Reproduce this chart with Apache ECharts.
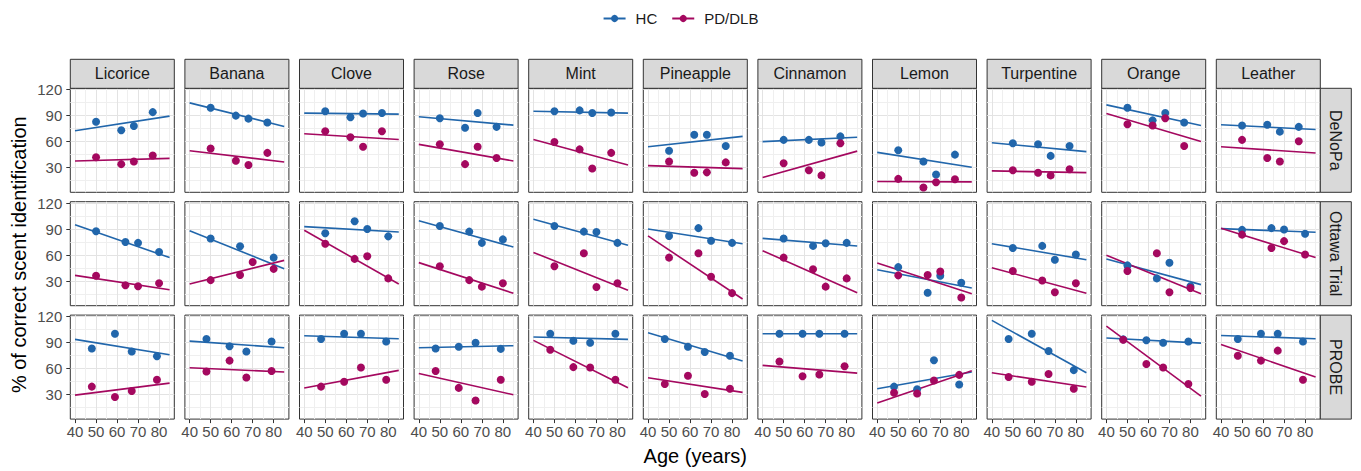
<!DOCTYPE html>
<html><head><meta charset="utf-8">
<script src="https://cdn.jsdelivr.net/npm/echarts@6/dist/echarts.min.js"></script>
<style>html,body{margin:0;padding:0;background:#fff}#c{width:1361px;height:471px}</style>
</head><body><div id="c"></div>
<script>
// ---------- DATA ----------
const scents = ['Licorice','Banana','Clove','Rose','Mint','Pineapple','Cinnamon','Lemon','Turpentine','Orange','Leather'];
const cohorts = ['DeNoPa','Ottawa Trial','PROBE'];
const groups = ['HC','PD/DLB'];
const xTicks = [40,50,60,70,80];
const xMinorTicks = [45,55,65,75,85];
const yTicks = [30,60,90,120];
const yMinorTicks = [15,45,75,105];
const fitAges = [40,85];

// mean age of each age band, per cohort
const agesDeNoPa = [50,62,68,77];
const agesOttawa = [50,64,70,80];
const agesPROBE  = [48,59,67,79];

// % correct per scent (rows follow `scents`), per age band
const deNoPaHC = [[83,73,78,94],[99,90,86.5,82],[95,88,92.5,93],[87,76,93,77],[95,96,93,93.5],[49.5,68,68,55],[62,62,59,66],[50,37,22,45],[58,57,43.5,55],[99,84.5,93,82],[78.5,79.5,71.5,77]];
const deNoPaPD = [[42,34,37,44],[52,38,33,47],[72,65,54,72],[57,34,54,41],[59.5,51,29,47],[37,24,24.5,36],[35,27,21,58],[17,7,13,16.5],[27,24,21,28],[80,78.5,87,55],[62,41,37,60.5]];
const ottawaHC = [[87.5,75,74,63.5],[79,70,null,57],[85,99,90,81.5],[93.5,87,74,78],[93.5,87,86.5,74],[82,91,76.5,74],[79,70.5,73.5,74],[46,16.5,36,28],[68,70.5,54.5,60.5],[48,33,51,24],[89,91,89.5,84.5]];
const ottawaPD = [[36,25,24,27.5],[31,37,52,44],[73,55.5,58.5,33],[47,31,23.5,27.5],[47,62,23,27.5],[57,62,35,16],[57,43.5,23.5,33],[36.5,37,41,11],[41.5,30.5,17,27.5],[41.5,62,17,22],[83.5,68,76,60.5]];
const probeHC  = [[83,100,79.5,74],[94,85.5,79.5,91],[94,100,100,91],[83,85,89.5,82.5],[100,92,89.5,100],[94,85,79,74.5],[100,100,100,100],[39,36,69.5,41.5],[94,100,80,58],[93.5,92.5,89.5,91],[94,100,100,91]];
const probePD  = [[39,27,34,47],[56.5,69,49.5,57],[39,44.5,61,47],[57,37.5,23,47],[81.5,61.5,61,47],[42,51.5,30.5,36.5],[68,51,53,62.5],[32,31,46,52.5],[50,44.5,53.5,36.5],[93,65,61,42],[74.5,69,80.5,47]];

// linear fit value at age 40 and age 85, per scent
const deNoPaHCFit = [[72.5,89.4],[104.7,77.5],[92.8,91.7],[88.6,79],[95.1,92.8],[54,66],[60,65],[47.6,30.4],[58.7,48.4],[102.4,78.6],[79.4,74]];
const deNoPaPDFit = [[37.7,40.7],[49.5,36.5],[69,62.5],[56.8,37.7],[62.5,33],[32.3,28.8],[18.5,49],[14,13.5],[26.2,24.2],[92.4,60],[54,46.8]];
const ottawaHCFit = [[95,57],[88,44.2],[92.7,86.5],[99.6,69.2],[101.2,71.2],[90,73],[79.2,70.4],[43,22],[73,54.6],[55.4,25.8],[90.4,86.2]];
const ottawaPDFit = [[36.5,20],[26.5,53.8],[88.5,26.5],[51.2,15.8],[63,19.2],[82,9.2],[65,16.5],[50.8,15.4],[45.4,15.8],[59.6,15.4],[90.8,57]];
const probeHCFit  = [[93.5,75.8],[91.5,83.8],[97.7,94.2],[83.8,86.2],[96.2,93.5],[101.2,68.5],[100,100],[36.5,55.8],[115.4,55],[95,89.2],[98,94.2]];
const probePDFit  = [[29.2,43],[60.8,55.8],[37.3,57.7],[54.2,29.6],[92.3,37.7],[49.2,32.3],[63.5,54.6],[20,57.3],[55,38.5],[108.8,28],[87.7,50]];

// ---------- STYLE / LAYOUT ----------
const FONT = "'Liberation Sans', Arial, Helvetica, sans-serif";
const COLORS = {'HC':'#2166ab', 'PD/DLB':'#a4085f'};
const L0 = 70.3, PX = 114.6, PW = 104;
const T0 = 88.3, PY = 113.4, PH = 104;
const XMIN = 37.75, XMAX = 87.25, YMIN = 1.5, YMAX = 121.5;

const cohortData = [
  {ages: agesDeNoPa, HC: deNoPaHC, PD: deNoPaPD, HCFit: deNoPaHCFit, PDFit: deNoPaPDFit},
  {ages: agesOttawa, HC: ottawaHC, PD: ottawaPD, HCFit: ottawaHCFit, PDFit: ottawaPDFit},
  {ages: agesPROBE,  HC: probeHC,  PD: probePD,  HCFit: probeHCFit,  PDFit: probePDFit}
];

const grid = [], xAxis = [], yAxis = [], lineSeries = [], pointSeries = [], graphics = [];

cohorts.forEach((coh, r) => {
  const cd = cohortData[r];
  scents.forEach((sc, c) => {
    const g = grid.length;
    const left = L0 + c * PX, top = T0 + r * PY;
    grid.push({left: left, top: top, width: PW, height: PH, show: true,
      backgroundColor: '#fff', borderColor: '#333', borderWidth: 1});
    const bottomRow = r === cohorts.length - 1, firstCol = c === 0;
    // minor grid axes
    xAxis.push({gridIndex: g, type: 'value', min: XMIN, max: XMAX,
      axisLine: {show: false, onZero: false}, axisTick: {show: false, customValues: xMinorTicks},
      axisLabel: {show: false, customValues: xMinorTicks},
      splitLine: {show: true, lineStyle: {color: '#efefef', width: 1}}});
    yAxis.push({gridIndex: g, type: 'value', min: YMIN, max: YMAX,
      axisLine: {show: false, onZero: false}, axisTick: {show: false, customValues: yMinorTicks},
      axisLabel: {show: false, customValues: yMinorTicks},
      splitLine: {show: true, lineStyle: {color: '#efefef', width: 1}}});
    // major axes
    xAxis.push({gridIndex: g, type: 'value', min: XMIN, max: XMAX, position: 'bottom',
      axisLine: {show: false, onZero: false},
      axisTick: {show: bottomRow, customValues: xTicks, length: 4, lineStyle: {color: '#333', width: 1}},
      axisLabel: {show: bottomRow, customValues: xTicks, margin: 5, color: '#4d4d4d', fontSize: 15, fontFamily: FONT},
      splitLine: {show: true, lineStyle: {color: '#e3e3e3', width: 1}}});
    yAxis.push({gridIndex: g, type: 'value', min: YMIN, max: YMAX, position: 'left',
      axisLine: {show: false, onZero: false},
      axisTick: {show: firstCol, customValues: yTicks, length: 4, lineStyle: {color: '#333', width: 1}},
      axisLabel: {show: firstCol, customValues: yTicks, margin: 8, color: '#4d4d4d', fontSize: 15, fontFamily: FONT},
      splitLine: {show: true, lineStyle: {color: '#e3e3e3', width: 1}}});
    const xi = 2 * g + 1, yi = 2 * g + 1;
    [['HC', cd.HC[c], cd.HCFit[c]], ['PD/DLB', cd.PD[c], cd.PDFit[c]]].forEach(([name, vals, fit]) => {
      lineSeries.push({name: name, type: 'line', xAxisIndex: xi, yAxisIndex: yi,
        data: fitAges.map((a, i) => [a, fit[i]]), symbol: 'none', silent: true, z: 3,
        lineStyle: {color: COLORS[name], width: 1.6}, itemStyle: {color: COLORS[name]}});
      pointSeries.push({name: name, type: 'scatter', xAxisIndex: xi, yAxisIndex: yi,
        data: cd.ages.map((a, i) => vals[i] == null ? null : [a, vals[i]]).filter(Boolean),
        symbol: 'circle', symbolSize: 8, z: 4, itemStyle: {color: COLORS[name], opacity: 1}});
    });
  });
});

// facet strips (top)
scents.forEach((sc, c) => {
  const left = L0 + c * PX;
  graphics.push({type: 'rect', shape: {x: left, y: T0 - 29, width: PW, height: 29},
    style: {fill: '#d9d9d9', stroke: '#333', lineWidth: 1}, z: 10});
  graphics.push({type: 'text', x: left + PW / 2, y: T0 - 14.5, z: 11,
    style: {text: sc, font: '16px ' + FONT, fill: '#1a1a1a', align: 'center', verticalAlign: 'middle'}});
});
// facet strips (right)
cohorts.forEach((coh, r) => {
  const top = T0 + r * PY, x0 = L0 + (scents.length - 1) * PX + PW;
  graphics.push({type: 'rect', shape: {x: x0, y: top, width: 31, height: PH},
    style: {fill: '#d9d9d9', stroke: '#333', lineWidth: 1}, z: 10});
  graphics.push({type: 'text', x: x0 + 15.5, y: top + PH / 2, rotation: -Math.PI / 2, z: 11,
    style: {text: coh, font: '16px ' + FONT, fill: '#1a1a1a', align: 'center', verticalAlign: 'middle'}});
});
// axis titles
const panelsLeft = L0, panelsRight = L0 + (scents.length - 1) * PX + PW;
const panelsTop = T0, panelsBottom = T0 + (cohorts.length - 1) * PY + PH;
graphics.push({type: 'text', x: (panelsLeft + panelsRight) / 2, y: 456, z: 11,
  style: {text: 'Age (years)', font: '20px ' + FONT, fill: '#000', align: 'center', verticalAlign: 'middle'}});
graphics.push({type: 'text', x: 19, y: (panelsTop + panelsBottom) / 2 + 1, rotation: Math.PI / 2, z: 11,
  style: {text: '% of correct scent identification', font: '20px ' + FONT, fill: '#000', align: 'center', verticalAlign: 'middle'}});

const chart = echarts.init(document.getElementById('c'), null, {renderer: 'svg'});
chart.setOption({
  animation: false,
  backgroundColor: '#fff',
  textStyle: {fontFamily: FONT},
  legend: {data: groups, top: 6, left: 'center', itemWidth: 22, itemHeight: 9, itemGap: 14,
    textStyle: {fontSize: 15, color: '#1a1a1a', fontFamily: FONT, padding: [0, 0, 0, 5]}},
  grid: grid, xAxis: xAxis, yAxis: yAxis,
  series: lineSeries.concat(pointSeries),
  graphic: {elements: graphics}
});
</script></body></html>
